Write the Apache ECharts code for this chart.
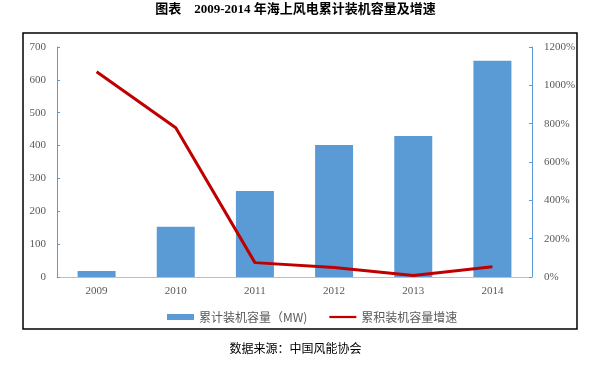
<!DOCTYPE html>
<html>
<head>
<meta charset="utf-8">
<script src="https://cdn.jsdelivr.net/npm/echarts@6/dist/echarts.min.js"></script>
<style>html,body{margin:0;padding:0;background:#fff}#c{width:591px;height:367px}</style>
</head>
<body>
<div id="c"></div>
<script>
const categories = ['2009', '2010', '2011', '2012', '2013', '2014'];
const capacity = [18, 153, 262, 402, 429, 658];
const growth = [1071, 779, 75, 50, 8, 54];
const leftTicks = [0, 700, 100];
const rightTicks = [0, 1200, 200];

const chart = echarts.init(document.getElementById('c'));
const serif = '"Liberation Serif", "Noto Sans CJK SC", serif';
chart.setOption({
  animation: false,
  backgroundColor: '#fff',
  title: {
    text: '图表    2009-2014 年海上风电累计装机容量及增速',
    left: 'center', top: -2,
    textStyle: { fontFamily: serif, fontSize: 13, fontWeight: 'bold', color: '#000' }
  },
  graphic: [
    { type: 'rect', shape: { x: 23, y: 33, width: 554, height: 296 },
      style: { fill: 'none', stroke: '#000', lineWidth: 1.5 }, z: 100 },
    { type: 'text', left: 'center', top: 342,
      style: { text: '数据来源：中国风能协会', fill: '#000', fontSize: 12, fontFamily: '"Noto Sans CJK SC", sans-serif' } }
  ],
  legend: {
    top: 306, left: 162, itemGap: 22, itemWidth: 27, itemHeight: 6,
    textStyle: { fontSize: 12, color: '#595959', fontFamily: '"Noto Sans CJK SC", sans-serif' },
    data: [
      { name: '累计装机容量（MW)', icon: 'rect' },
      { name: '累积装机容量增速', icon: 'path://M0,0L0,0M0,3.5L60,3.5L60,8.5L0,8.5ZM60,12L60,12' }
    ]
  },
  grid: { left: 57, right: 59, top: 47, bottom: 90 },
  xAxis: {
    type: 'category', data: categories,
    axisLine: { lineStyle: { color: '#bfbfbf' } },
    axisTick: { show: false },
    axisLabel: { color: '#595959', fontSize: 11, fontFamily: serif, margin: 9 }
  },
  yAxis: [
    { type: 'value', min: leftTicks[0], max: leftTicks[1], interval: leftTicks[2],
      axisLine: { show: true, lineStyle: { color: '#5b9bd5' } },
      axisTick: { show: true, inside: true, length: 3, lineStyle: { color: '#5b9bd5' } },
      splitLine: { show: false },
      axisLabel: { color: '#595959', fontSize: 11, fontFamily: serif, margin: 11 } },
    { type: 'value', min: rightTicks[0], max: rightTicks[1], interval: rightTicks[2],
      axisLine: { show: true, lineStyle: { color: '#5b9bd5' } },
      axisTick: { show: true, inside: true, length: 3, lineStyle: { color: '#5b9bd5' } },
      splitLine: { show: false },
      axisLabel: { color: '#595959', fontSize: 11, fontFamily: serif, margin: 12,
        formatter: function (v) { return v + '%'; } } }
  ],
  series: [
    { name: '累计装机容量（MW)', type: 'bar', data: capacity, barWidth: 38,
      itemStyle: { color: '#5b9bd5' } },
    { name: '累积装机容量增速', type: 'line', yAxisIndex: 1, data: growth,
      symbol: 'none', lineStyle: { color: '#c00000', width: 3 }, itemStyle: { color: '#c00000' } }
  ]
});
</script>
</body>
</html>
